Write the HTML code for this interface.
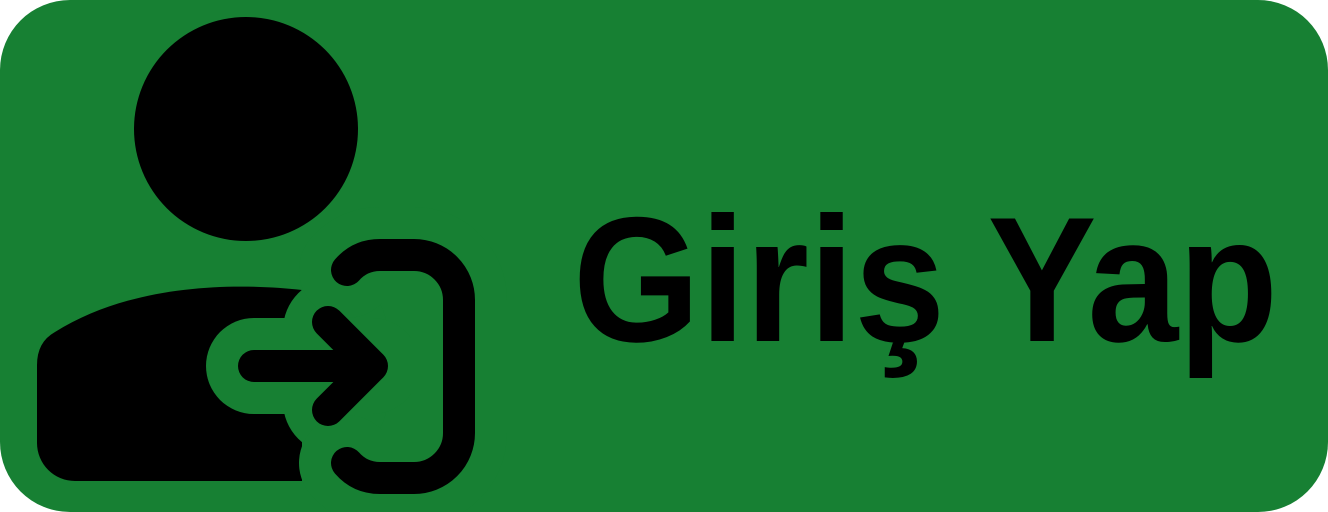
<!DOCTYPE html>
<html><head><meta charset="utf-8"><style>
html,body{margin:0;padding:0;background:#fff;width:1328px;height:512px;overflow:hidden}
</style></head><body>
<svg width="1328" height="512" viewBox="0 0 1328 512">
<rect x="0" y="0" width="1328" height="512" rx="70" ry="70" fill="#178033"/>
<g>
<path d="M75,481 H302 V290 C230,282 130,285 55,332 Q37,342 37,365 V443 A38,38 0 0 0 75,481 Z" fill="#000"/>
<circle cx="335" cy="330" r="52" fill="#178033"/>
<circle cx="335" cy="402" r="52" fill="#178033"/>
<path d="M254,366 H372" stroke="#178033" stroke-width="96" stroke-linecap="round" fill="none"/>
<path d="M347,270 Q360,255 380,255 H414 A45,45 0 0 1 459,300 V433 A45,45 0 0 1 414,478 H380 Q360,478 347,463" stroke="#178033" stroke-width="96" stroke-linecap="round" fill="none"/>
<circle cx="246" cy="129" r="112" fill="#000"/>
<path d="M254,366 H370 M328,322 L372,366 L328,410" stroke="#000" stroke-width="32" stroke-linecap="round" stroke-linejoin="round" fill="none"/>
<path d="M347,270 Q360,255 380,255 H414 A45,45 0 0 1 459,300 V433 A45,45 0 0 1 414,478 H380 Q360,478 347,463" stroke="#000" stroke-width="32" stroke-linecap="round" fill="none"/>
</g>
<text x="573" y="341" font-family="'Liberation Sans', sans-serif" font-weight="bold" font-size="178" textLength="705" lengthAdjust="spacingAndGlyphs" fill="#000">Giriş Yap</text>
</svg>
</body></html>
